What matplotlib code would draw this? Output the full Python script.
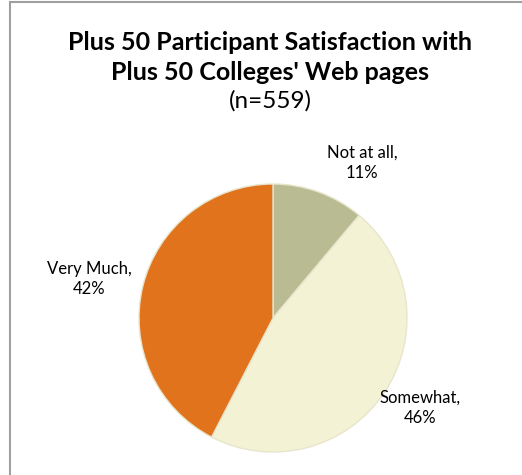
import matplotlib
matplotlib.use('Agg')
import matplotlib.pyplot as plt
import matplotlib.patches as mpatches

# Data
categories = ['Not at all', 'Somewhat', 'Very Much']
percents = [11, 46, 42]
colors = ['#B9BC93', '#F4F2D4', '#E1731D']

plt.rcParams['font.family'] = ['Lato', 'DejaVu Sans']

W, H = 522, 475
fig = plt.figure(figsize=(W / 100, H / 100), dpi=100)
ax = fig.add_axes([0, 0, 1, 1])


def py(y):
    # pixel row from the top -> data y (y up)
    return H - y


ax.pie(percents, colors=colors, startangle=90, counterclock=False,
       center=(273, py(318)), radius=134,
       wedgeprops=dict(edgecolor='#e8e5cc', linewidth=1))

ax.set_xlim(0, W)
ax.set_ylim(0, H)
ax.set_aspect('equal')
ax.axis('off')

# chart area border
ax.add_patch(mpatches.Rectangle((10, py(2) - 500), 530, 500, fill=False,
                                edgecolor='#a0a0a0', linewidth=1.5, clip_on=False))

ax.text(270, py(42), 'Plus 50 Participant Satisfaction with', ha='center', va='center',
        fontsize=18, fontweight='bold')
ax.text(270, py(72), "Plus 50 Colleges' Web pages", ha='center', va='center',
        fontsize=18, fontweight='bold')
ax.text(270, py(101), '(n=559)', ha='center', va='center', fontsize=17.5)

label_pos = [(362, 163), (420, 408), (89, 279)]
for (x, y), name, p in zip(label_pos, categories, percents):
    ax.text(x, py(y), f'{name},\n{p}%', ha='center', va='center', fontsize=12,
            linespacing=1.3)

fig.savefig('out.png', dpi=100, facecolor='white')
